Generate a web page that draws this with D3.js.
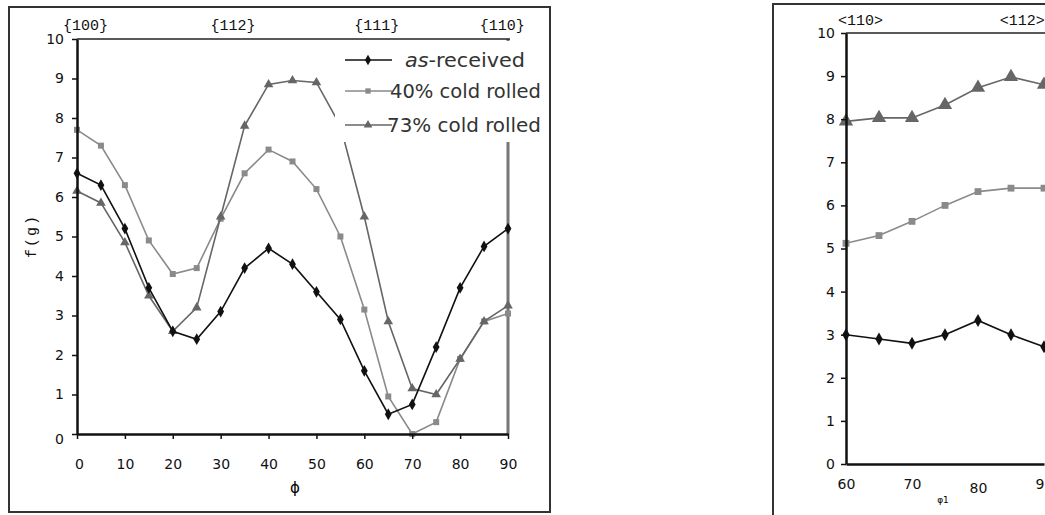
<html>
<head>
<style>
    body { margin: 0; background: #fff; }
    svg { display: block; }
    .tick text { font-family: "DejaVu Sans", Verdana, sans-serif; font-size: 14px; fill: #111; }
    .mono { font-family: "Liberation Mono", "DejaVu Sans Mono", monospace; font-size: 15px; fill: #111; }
    .leg { font-family: "DejaVu Sans Condensed", "DejaVu Sans", Verdana, sans-serif; font-stretch: condensed; font-size: 20px; fill: #333; }
</style>
</head>
<body>
<svg width='1045' height='515'></svg>
<script src='https://cdnjs.cloudflare.com/ajax/libs/d3/7.8.5/d3.min.js'></script>
<script>
    // left chart: f(g) along the phi fibre
    const phi = [0, 5, 10, 15, 20, 25, 30, 35, 40, 45, 50, 55, 60, 65, 70, 75, 80, 85, 90];
    const asReceived = [6.6, 6.3, 5.2, 3.7, 2.6, 2.4, 3.1, 4.2, 4.7, 4.3, 3.6, 2.9, 1.6, 0.5, 0.75, 2.2, 3.7, 4.75, 5.2];
    const cold40 = [7.7, 7.3, 6.3, 4.9, 4.05, 4.2, 5.45, 6.6, 7.2, 6.9, 6.2, 5.0, 3.15, 0.95, 0.0, 0.3, 1.9, 2.85, 3.05];
    const cold73 = [6.15, 5.85, 4.85, 3.5, 2.6, 3.2, 5.5, 7.8, 8.85, 8.95, 8.9, 7.8, 5.5, 2.85, 1.15, 1.0, 1.9, 2.85, 3.25];
    const fibreLabels = [{at: 1.8, text: '{100}'}, {at: 32.6, text: '{112}'}, {at: 62.6, text: '{111}'}, {at: 88.8, text: '{110}'}];
    const legendNames = [['as', '-received'], ['', '40% cold rolled'], ['', '73% cold rolled']];

    // right chart (cut off by the page edge)
    const phi1 = [60, 65, 70, 75, 80, 85, 90];
    const rAsReceived = [3.0, 2.9, 2.8, 3.0, 3.33, 3.0, 2.72];
    const rCold40 = [5.12, 5.3, 5.63, 6.0, 6.32, 6.4, 6.4];
    const rCold73 = [7.95, 8.03, 8.03, 8.33, 8.73, 8.98, 8.8];
    const rFibreLabels = [{at: 62.2, text: '<110>'}, {at: 86.7, text: '<112>'}];

    const svg = d3.select('svg');

    const styles = [
        {color: '#111', symbol: d3.symbolDiamond, size: 40},
        {color: '#8a8a8a', symbol: d3.symbolSquare, size: 36},
        {color: '#666', symbol: d3.symbolTriangle, size: 40}
    ];

    function drawSeries (g, xs, ys, x, y, st, scale) {
        const line = d3.line().x((d, i) => x(xs[i])).y(d => y(d));
        g.append('path')
            .attr('d', line(ys))
            .attr('fill', 'none')
            .attr('stroke', st.color)
            .attr('stroke-width', 1.6);
        g.selectAll(null)
            .data(ys)
            .enter()
            .append('path')
            .attr('d', d3.symbol().type(st.symbol).size(st.size * scale))
            .attr('transform', (d, i) => 'translate(' + x(xs[i]) + ',' + y(d) + ')')
            .attr('fill', st.color);
    }

    // ---------- left chart ----------
    svg.append('rect')
        .attr('x', 9).attr('y', 7).attr('width', 541).attr('height', 505)
        .attr('fill', 'none').attr('stroke', '#333').attr('stroke-width', 2);

    const x = d3.scaleLinear().domain([0, 90]).range([77, 508]);
    const y = d3.scaleLinear().domain([0, 10]).range([434, 39]);

    const left = svg.append('g');

    // right frame line (partly hidden behind legend)
    left.append('line')
        .attr('x1', x(90)).attr('x2', x(90)).attr('y1', y(10)).attr('y2', y(0))
        .attr('stroke', '#777').attr('stroke-width', 3);

    drawSeries(left, phi, cold40, x, y, styles[1], 1);
    drawSeries(left, phi, cold73, x, y, styles[2], 1);
    drawSeries(left, phi, asReceived, x, y, styles[0], 1);

    // legend with white background covering the plot
    const legend = left.append('g');
    legend.append('rect')
        .attr('x', 335).attr('y', 41).attr('width', 212).attr('height', 101)
        .attr('fill', '#fff');

    // top frame line
    left.append('line')
        .attr('x1', x(0)).attr('x2', x(90) + 2).attr('y1', y(10)).attr('y2', y(10))
        .attr('stroke', '#222').attr('stroke-width', 1.5);

    const rows = [60, 91, 125];
    const textX = [405, 390, 387];
    legendNames.forEach((name, i) => {
        const st = styles[i];
        legend.append('line')
            .attr('x1', 345).attr('x2', 392).attr('y1', rows[i]).attr('y2', rows[i])
            .attr('stroke', st.color).attr('stroke-width', 1.6);
        legend.append('path')
            .attr('d', d3.symbol().type(st.symbol).size(st.size * 0.8))
            .attr('transform', 'translate(368,' + rows[i] + ')')
            .attr('fill', st.color);
        const t = legend.append('text')
            .attr('class', 'leg')
            .attr('x', textX[i]).attr('y', rows[i] + 7)
            .attr('textLength', 541 - textX[i] - (i === 0 ? 16 : 0))
            .attr('lengthAdjust', 'spacingAndGlyphs');
        if (name[0]) {
            t.append('tspan').style('font-style', 'italic').text(name[0]);
        }
        t.append('tspan').text(name[1]);
    });

    const yAxis = left.append('g')
        .attr('transform', 'translate(' + x(0) + ',0)')
        .call(d3.axisLeft(y).ticks(10).tickSize(5).tickSizeOuter(0).tickPadding(8));
    yAxis.select('.domain').attr('stroke', '#111').attr('stroke-width', 2.5);
    yAxis.selectAll('.tick line').attr('stroke', '#111').attr('stroke-width', 1.5);
    yAxis.selectAll('.tick text').attr('dy', (d) => d === 0 ? '0.7em' : '0.32em');

    const xAxis = left.append('g')
        .attr('transform', 'translate(0,' + y(0) + ')')
        .call(d3.axisBottom(x).ticks(9).tickSize(5).tickSizeOuter(0).tickPadding(20));
    xAxis.select('.domain').attr('stroke', '#111').attr('stroke-width', 2.5);
    xAxis.selectAll('.tick line').attr('stroke', '#111').attr('stroke-width', 1.5);
    xAxis.selectAll('.tick text').attr('dx', (d) => d === 0 ? 2 : 0);

    left.selectAll('.fibre')
        .data(fibreLabels)
        .enter()
        .append('text')
        .attr('class', 'mono')
        .attr('x', d => x(d.at))
        .attr('y', 30)
        .attr('text-anchor', 'middle')
        .text(d => d.text);

    left.append('text')
        .attr('class', 'mono')
        .attr('transform', 'translate(36,236) rotate(-90)')
        .attr('text-anchor', 'middle')
        .style('font-size', '15px')
        .style('letter-spacing', '2px')
        .text('f(g)');

    left.append('text')
        .attr('x', 295).attr('y', 493)
        .attr('text-anchor', 'middle')
        .style('font-family', '"DejaVu Sans", sans-serif')
        .style('font-size', '15px')
        .text('ϕ');

    // ---------- right chart ----------
    svg.append('rect')
        .attr('x', 773).attr('y', 4).attr('width', 400).attr('height', 530)
        .attr('fill', 'none').attr('stroke', '#333').attr('stroke-width', 2);

    const x2 = d3.scaleLinear().domain([60, 90]).range([846, 1044]);
    const y2 = d3.scaleLinear().domain([0, 10]).range([464, 33]);

    const right = svg.append('g');

    right.append('line')
        .attr('x1', x2(60)).attr('x2', 1045).attr('y1', y2(10)).attr('y2', y2(10))
        .attr('stroke', '#222').attr('stroke-width', 1.5);

    drawSeries(right, phi1, rCold40, x2, y2, styles[1], 1.3);
    drawSeries(right, phi1, rCold73, x2, y2, styles[2], 2.2);
    drawSeries(right, phi1, rAsReceived, x2, y2, styles[0], 1.2);

    const yAxis2 = right.append('g')
        .attr('transform', 'translate(' + x2(60) + ',0)')
        .call(d3.axisLeft(y2).ticks(10).tickSize(5).tickSizeOuter(0).tickPadding(6));
    yAxis2.select('.domain').attr('stroke', '#111').attr('stroke-width', 2.5);
    yAxis2.selectAll('.tick line').attr('stroke', '#111').attr('stroke-width', 1.5);

    const xAxis2 = right.append('g')
        .attr('transform', 'translate(0,' + y2(0) + ')')
        .call(d3.axisBottom(x2).tickValues([60, 70, 80, 90]).tickSize(0).tickSizeOuter(0).tickPadding(15));
    xAxis2.select('.domain').attr('stroke', '#111').attr('stroke-width', 2.5);
    xAxis2.selectAll('.tick text').attr('dy', (d) => d === 80 ? '1em' : '0.71em');

    right.selectAll('.fibre')
        .data(rFibreLabels)
        .enter()
        .append('text')
        .attr('class', 'mono')
        .attr('x', d => x2(d.at))
        .attr('y', 25)
        .attr('text-anchor', 'middle')
        .text(d => d.text);

    right.append('text')
        .attr('x', 943).attr('y', 503)
        .attr('text-anchor', 'middle')
        .style('font-family', '"DejaVu Sans", sans-serif')
        .style('font-size', '9px')
        .text('φ1');
</script>
</body>
</html>
